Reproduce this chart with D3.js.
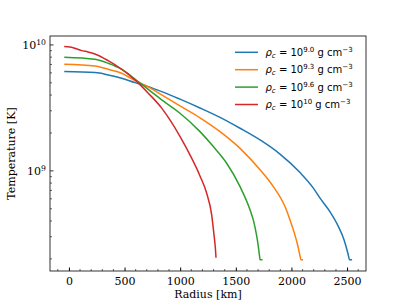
<!DOCTYPE html>
<html>
<head>
<meta charset="utf-8">
<script src="https://cdn.jsdelivr.net/npm/d3@7"></script>
<style>
  body { margin: 0; background: #fff; }
  svg text { fill: #000; }
</style>
</head>
<body>
<svg id="chart" width="407" height="305"></svg>
<script>
// central densities (exponent shown in legend) and colours
var seriesExp = ["9.0", "9.3", "9.6", "10"];
var seriesColors = ["#1f77b4", "#ff7f0e", "#2ca02c", "#d62728"];

// radius [km] and temperature [K]
var radius90 = [-42, 234, 353, 474, 594, 713, 834, 998, 1178, 1358, 1538, 1718, 1897, 2077, 2197, 2257, 2347, 2419, 2473, 2509, 2522, 2545];
var temp90 = [6.14e9, 6.03e9, 5.78e9, 5.44e9, 5.02e9, 4.67e9, 4.26e9, 3.71e9, 3.16e9, 2.66e9, 2.18e9, 1.76e9, 1.36e9, 9.7e8, 7.30e8, 6.07e8, 4.73e8, 3.66e8, 2.83e8, 2.19e8, 1.97e8, 1.97e8];

var radius93 = [-42, 234, 353, 474, 594, 713, 834, 998, 1178, 1358, 1538, 1718, 1837, 1942, 1987, 2023, 2055, 2077, 2085, 2104];
var temp93 = [7.03e9, 6.81e9, 6.41e9, 5.96e9, 5.21e9, 4.64e9, 4.01e9, 3.28e9, 2.64e9, 2.05e9, 1.51e9, 1.02e9, 7.50e8, 5.21e8, 4.08e8, 3.28e8, 2.59e8, 2.11e8, 1.97e8, 1.97e8];

var radius96 = [-42, 234, 353, 474, 594, 713, 834, 938, 998, 1178, 1298, 1418, 1538, 1628, 1657, 1686, 1704, 1713, 1718, 1740];
var temp96 = [7.99e9, 7.70e9, 7.16e9, 6.41e9, 5.35e9, 4.44e9, 3.66e9, 3.15e9, 2.87e9, 2.05e9, 1.56e9, 1.15e9, 7.50e8, 4.90e8, 4.08e8, 3.10e8, 2.45e8, 2.11e8, 1.97e8, 1.97e8];

var radius100 = [-42, 9, 45, 114, 171, 234, 353, 474, 594, 713, 834, 908, 998, 1088, 1178, 1238, 1283, 1304, 1316, 1322];
var temp100 = [9.70e9, 9.64e9, 9.47e9, 9.01e9, 8.80e9, 8.48e9, 7.50e9, 6.41e9, 5.28e9, 4.14e9, 3.15e9, 2.54e9, 1.88e9, 1.34e9, 9.12e8, 6.65e8, 4.48e8, 3.10e8, 2.45e8, 2.04e8];

var xTicks = [0, 500, 1000, 1500, 2000, 2500];
var yTicks = [1e9, 1e10];

var allRadius = [radius90, radius93, radius96, radius100];
var allTemp = [temp90, temp93, temp96, temp100];

var svg = d3.select("#chart");
var plotL = 50, plotR = 366, plotT = 36, plotB = 271;

var x = d3.scaleLinear().domain([-170, 2670]).range([plotL, plotR]);
var y = d3.scaleLog().domain([Math.pow(10, 8.205), Math.pow(10, 10.071)]).range([plotB, plotT]);

// curves
var line = d3.line()
  .curve(d3.curveMonotoneX)
  .x(function(d) { return x(d[0]); })
  .y(function(d) { return y(d[1]); });

allRadius.forEach(function(rs, i) {
  var pts = rs.map(function(r, j) { return [r, allTemp[i][j]]; });
  svg.append("path")
    .attr("d", line(pts))
    .attr("fill", "none")
    .attr("stroke", seriesColors[i])
    .attr("stroke-width", 1.5)
    .attr("stroke-linejoin", "round");
});

// x axis (ticks pointing in)
var xMinor = d3.range(-100, 2700, 100).filter(function(v) { return v % 500 !== 0; });
var xAxis = svg.append("g").attr("transform", "translate(0," + plotB + ")");
xAxis.selectAll(".minor").data(xMinor).enter().append("line")
  .attr("x1", function(d) { return x(d); }).attr("x2", function(d) { return x(d); })
  .attr("y1", 0).attr("y2", -2).attr("stroke", "#000").attr("stroke-width", 0.6);
xAxis.call(d3.axisBottom(x).tickValues(xTicks).tickFormat(d3.format("d"))
  .tickSizeInner(-3.5).tickSizeOuter(0).tickPadding(6.3));
xAxis.select(".domain").remove();
xAxis.selectAll("text").attr("font-family", "DejaVu Serif").attr("font-size", 11).attr("fill", "#000");

// y axis, log
var yMinor = [];
[1e8, 1e9].forEach(function(base) {
  for (var k = 2; k <= 9; k++) {
    var v = k * base;
    if (v > y.domain()[0] && v < y.domain()[1]) yMinor.push(v);
  }
});
var yAxis = svg.append("g").attr("transform", "translate(" + plotL + ",0)");
yAxis.selectAll(".minor").data(yMinor).enter().append("line")
  .attr("y1", function(d) { return y(d); }).attr("y2", function(d) { return y(d); })
  .attr("x1", 0).attr("x2", 2).attr("stroke", "#000").attr("stroke-width", 0.6);
yAxis.selectAll(".major").data(yTicks).enter().append("line")
  .attr("y1", function(d) { return y(d); }).attr("y2", function(d) { return y(d); })
  .attr("x1", 0).attr("x2", 3.5).attr("stroke", "#000").attr("stroke-width", 0.8);
var yLab = yAxis.selectAll(".lab").data(yTicks).enter().append("text")
  .attr("x", -4).attr("y", function(d) { return y(d); })
  .attr("dy", "0.35em")
  .attr("text-anchor", "end")
  .attr("font-family", "DejaVu Serif").attr("font-size", 11);
yLab.append("tspan").text("10");
yLab.append("tspan").attr("dy", "-0.45em").attr("font-size", 7.7)
  .text(function(d) { return String(Math.round(Math.log10(d))); });

// frame
svg.append("rect")
  .attr("x", plotL).attr("y", plotT)
  .attr("width", plotR - plotL).attr("height", plotB - plotT)
  .attr("fill", "none").attr("stroke", "#000").attr("stroke-width", 0.8);

// axis titles
svg.append("text")
  .attr("x", (plotL + plotR) / 2).attr("y", 298)
  .attr("text-anchor", "middle")
  .attr("font-family", "DejaVu Serif").attr("font-size", 11)
  .text("Radius [km]");
svg.append("text")
  .attr("transform", "translate(14.5," + ((plotT + plotB) / 2) + ") rotate(-90)")
  .attr("text-anchor", "middle")
  .attr("font-family", "DejaVu Serif").attr("font-size", 11)
  .text("Temperature [K]");

// legend
var legend = svg.append("g");
seriesExp.forEach(function(e, i) {
  var ly = 52.3 + i * 17.4;
  legend.append("line")
    .attr("x1", 235).attr("x2", 258).attr("y1", ly).attr("y2", ly)
    .attr("stroke", seriesColors[i]).attr("stroke-width", 1.5);
  var t = legend.append("text")
    .attr("x", 265.5).attr("y", ly + 3.5)
    .attr("font-family", "DejaVu Sans").attr("font-size", 10);
  t.append("tspan").attr("font-style", "italic").text("ρ");
  t.append("tspan").attr("font-style", "italic").attr("font-size", 7).attr("dy", 2).text("c");
  t.append("tspan").attr("dy", -2).text(" = 10");
  t.append("tspan").attr("font-size", 7).attr("dy", -4).text(e);
  t.append("tspan").attr("dy", 4).text(" g cm");
  t.append("tspan").attr("font-size", 7).attr("dy", -4).text("−3");
});
</script>
</body>
</html>
